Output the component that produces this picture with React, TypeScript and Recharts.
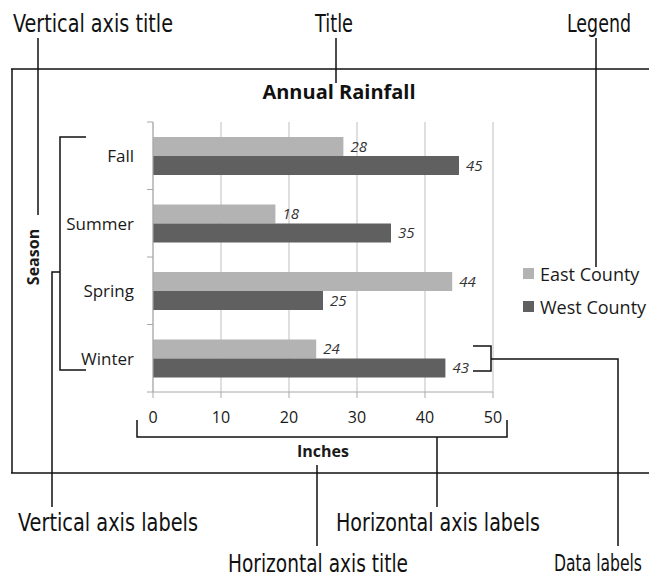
import React from "react";
import {
  Bar,
  BarChart,
  CartesianGrid,
  LabelList,
  Legend,
  XAxis,
  YAxis,
} from "recharts";

const seasons = ["Fall", "Summer", "Spring", "Winter"];
const eastCounty = [28, 18, 44, 24];
const westCounty = [45, 35, 25, 43];
const inchTicks = [0, 10, 20, 30, 40, 50];

const data = seasons.map((season, i) => ({
  season,
  east: eastCounty[i],
  west: westCounty[i],
}));

const W = 649;
const H = 578;
const PLOT_LEFT = 153;
const PLOT_TOP = 122;
const PLOT_BOTTOM = 392;
const PLOT_RIGHT = 493;
const YAXIS_W = 128;
const XAXIS_H = 40;
const BAND = (PLOT_BOTTOM - PLOT_TOP) / seasons.length;

const EAST = "#b3b3b3";
const WEST = "#606060";
const AXIS = "#a8a8a8";
const GRID = "#bfbfbf";
const INK = "#1a1a1a";
const CHART_FONT = "'Open Sans', 'Noto Sans', sans-serif";
const NOTE_FONT =
  "'Liberation Sans Narrow', 'DejaVu Sans Condensed', 'Roboto', sans-serif";

function SeasonTick(props: any) {
  const { y, payload, index } = props;
  return (
    <g>
      <text
        x={PLOT_LEFT - 19}
        y={y}
        textAnchor="end"
        dominantBaseline="central"
        fontSize={17}
        fill={INK}
        fontFamily={CHART_FONT}
      >
        {payload.value}
      </text>
      <line
        x1={PLOT_LEFT - 6}
        x2={PLOT_LEFT}
        y1={y - BAND / 2}
        y2={y - BAND / 2}
        stroke={AXIS}
      />
      {index === seasons.length - 1 && (
        <line
          x1={PLOT_LEFT - 6}
          x2={PLOT_LEFT}
          y1={y + BAND / 2}
          y2={y + BAND / 2}
          stroke={AXIS}
        />
      )}
    </g>
  );
}

function LegendBox() {
  const items = [
    { name: "East County", color: EAST },
    { name: "West County", color: WEST },
  ];
  return (
    <div style={{ fontFamily: CHART_FONT, fontSize: 18, color: INK }}>
      {items.map((it) => (
        <div
          key={it.name}
          style={{ display: "flex", alignItems: "center", height: 33 }}
        >
          <span
            style={{
              width: 11,
              height: 11,
              background: it.color,
              marginRight: 6,
              display: "inline-block",
            }}
          />
          <span>{it.name}</span>
        </div>
      ))}
    </div>
  );
}

function Note({
  x,
  y,
  w,
  size = 25,
  anchor = "start",
  children,
}: {
  x: number;
  y: number;
  w: number;
  size?: number;
  anchor?: "start" | "end";
  children: string;
}) {
  return (
    <text
      x={x}
      y={y}
      fontSize={size}
      fontFamily={NOTE_FONT}
      fill="#111"
      textAnchor={anchor}
      textLength={w}
      lengthAdjust="spacingAndGlyphs"
    >
      {children}
    </text>
  );
}

function Annotations() {
  const ln = { stroke: "#111", strokeWidth: 1.5, fill: "none" };
  return (
    <svg
      width={W}
      height={H}
      style={{ position: "absolute", left: 0, top: 0, pointerEvents: "none" }}
    >
      {/* chart frame */}
      <line x1={11} y1={69} x2={W} y2={69} {...ln} />
      <line x1={11} y1={473} x2={W} y2={473} {...ln} />
      <line x1={12} y1={69} x2={12} y2={473} {...ln} />

      <text
        x={339}
        y={99}
        textAnchor="middle"
        fontSize={20}
        fontWeight={700}
        fontFamily={CHART_FONT}
        fill="#111"
      >
        Annual Rainfall
      </text>

      {/* callouts, top */}
      <Note x={13} y={32} w={160}>Vertical axis title</Note>
      <Note x={315} y={32} w={38}>Title</Note>
      <Note x={567} y={32} w={64}>Legend</Note>
      <line x1={38} y1={38} x2={38} y2={215} {...ln} />
      <line x1={336} y1={38} x2={336} y2={83} {...ln} />
      <line x1={596} y1={38} x2={596} y2={267} {...ln} />

      {/* vertical axis labels bracket */}
      <polyline points="86,137 60,137 60,370 86,370" {...ln} />
      <polyline points="60,272 52,272 52,507" {...ln} />

      {/* horizontal axis labels bracket */}
      <polyline points="137,420 137,437 507,437 507,420" {...ln} />
      <line x1={437} y1={437} x2={437} y2={507} {...ln} />

      {/* horizontal axis title */}
      <line x1={317} y1={465} x2={317} y2={546} {...ln} />

      {/* data labels bracket */}
      <polyline points="473,346 491,346 491,371 473,371" {...ln} />
      <polyline points="491,359 618,359 618,546" {...ln} />

      {/* callouts, bottom */}
      <Note x={18} y={531} w={180}>Vertical axis labels</Note>
      <Note x={336} y={531} w={204}>Horizontal axis labels</Note>
      <Note x={228} y={572} w={180} size={24}>Horizontal axis title</Note>
      <Note x={642} y={571} w={88} size={23} anchor="end">Data labels</Note>
    </svg>
  );
}

export default function App() {
  return (
    <div
      style={{
        position: "absolute",
        left: 0,
        top: 0,
        width: W,
        height: H,
        background: "#fff",
        overflow: "hidden",
      }}
    >
      <BarChart
        width={W}
        height={H}
        data={data}
        layout="vertical"
        barSize={19}
        barGap={0}
        margin={{
          top: PLOT_TOP,
          right: W - PLOT_RIGHT,
          bottom: H - PLOT_BOTTOM - XAXIS_H,
          left: PLOT_LEFT - YAXIS_W,
        }}
      >
        <CartesianGrid horizontal={false} stroke={GRID} />
        <XAxis
          type="number"
          domain={[0, 50]}
          ticks={inchTicks}
          height={XAXIS_H}
          stroke={AXIS}
          tickSize={6}
          tickMargin={14}
          tick={{ fontSize: 16, fill: INK, fontFamily: CHART_FONT }}
          label={{
            value: "Inches",
            position: "bottom",
            offset: 14,
            style: {
              fontSize: 16,
              fontWeight: 700,
              fill: INK,
              fontFamily: CHART_FONT,
            },
          }}
        />
        <YAxis
          type="category"
          dataKey="season"
          width={YAXIS_W}
          stroke={AXIS}
          tickLine={false}
          tick={<SeasonTick />}
          label={{
            value: "Season",
            angle: -90,
            position: "insideLeft",
            offset: 8,
            style: {
              textAnchor: "middle",
              fontSize: 16,
              fontWeight: 700,
              fill: INK,
              fontFamily: CHART_FONT,
            },
          }}
        />
        <Legend
          layout="vertical"
          align="center"
          verticalAlign="middle"
          content={() => <LegendBox />}
          wrapperStyle={{ left: 523, top: 257, width: "auto" }}
        />
        <Bar dataKey="east" name="East County" fill={EAST} isAnimationActive={false}>
          <LabelList
            dataKey="east"
            position="right"
            offset={7}
            style={{
              fontSize: 15,
              fontStyle: "italic",
              fill: "#333",
              fontFamily: CHART_FONT,
            }}
          />
        </Bar>
        <Bar dataKey="west" name="West County" fill={WEST} isAnimationActive={false}>
          <LabelList
            dataKey="west"
            position="right"
            offset={7}
            style={{
              fontSize: 15,
              fontStyle: "italic",
              fill: "#333",
              fontFamily: CHART_FONT,
            }}
          />
        </Bar>
      </BarChart>
      <Annotations />
    </div>
  );
}
